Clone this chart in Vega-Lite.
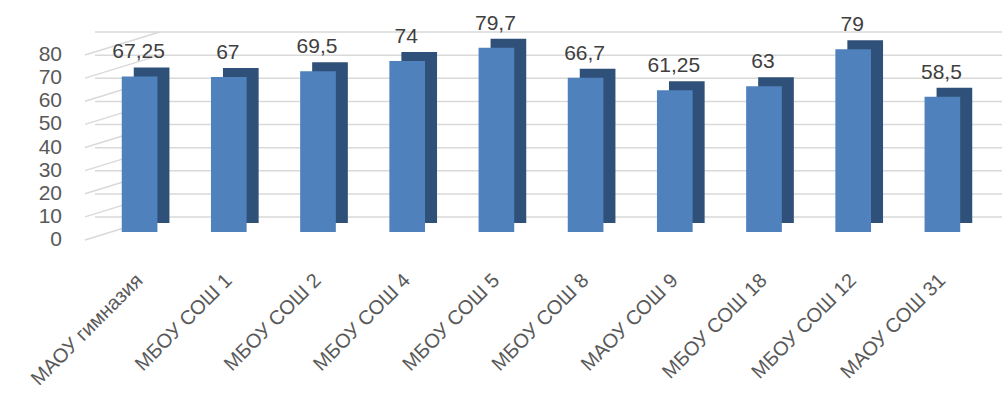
{
  "$schema": "https://vega.github.io/schema/vega-lite/v6.json",
  "width": 892,
  "height": 185,
  "autosize": {"type": "none"},
  "padding": {"left": 95, "top": 47, "right": 15, "bottom": 164},
  "background": "white",
  "config": {
    "view": {"stroke": null},
    "font": "Liberation Sans",
    "axisX": {
      "title": null, "domain": false, "ticks": false, "grid": false, "labelAngle": -45,
      "labelAlign": "right", "labelBaseline": "middle", "labelPadding": 45,
      "labelFontSize": 20, "labelColor": "#595959", "labelFont": "Liberation Sans"
    },
    "locale": {"number": {"decimal": ",", "thousands": " ", "grouping": [3], "currency": ["", ""]}}
  },
  "datasets": {
    "schools": [
      {"school": "МАОУ гимназия", "value": 67.25},
      {"school": "МБОУ СОШ 1", "value": 67},
      {"school": "МБОУ СОШ 2", "value": 69.5},
      {"school": "МБОУ СОШ 4", "value": 74},
      {"school": "МБОУ СОШ 5", "value": 79.7},
      {"school": "МБОУ СОШ 8", "value": 66.7},
      {"school": "МАОУ СОШ 9", "value": 61.25},
      {"school": "МБОУ СОШ 18", "value": 63},
      {"school": "МБОУ СОШ 12", "value": 79},
      {"school": "МАОУ СОШ 31", "value": 58.5}
    ],
    "grid": [
      {"value": 0}, {"value": 10}, {"value": 20}, {"value": 30}, {"value": 40},
      {"value": 50}, {"value": 60}, {"value": 70}, {"value": 80}
    ]
  },
  "encoding": {
    "y": {
      "field": "value", "type": "quantitative",
      "scale": {"domain": [0, 80], "nice": false},
      "axis": null
    }
  },
  "layer": [
    {
      "data": {"name": "grid"},
      "mark": {"type": "rule", "color": "#D9D9D9", "strokeWidth": 1.5, "xOffset": 20, "yOffset": -15},
      "encoding": {}
    },
    {
      "data": {"name": "grid"},
      "mark": {"type": "rule", "color": "#D9D9D9", "strokeWidth": 1.5, "xOffset": -10, "x2Offset": 20, "yOffset": 8, "y2Offset": -15},
      "encoding": {
        "x": {
          "datum": "МАОУ гимназия", "type": "nominal", "bandPosition": 0,
          "scale": {
            "domain": ["МАОУ гимназия", "МБОУ СОШ 1", "МБОУ СОШ 2", "МБОУ СОШ 4", "МБОУ СОШ 5", "МБОУ СОШ 8", "МАОУ СОШ 9", "МБОУ СОШ 18", "МБОУ СОШ 12", "МАОУ СОШ 31"],
            "paddingInner": 0, "paddingOuter": 0
          }
        },
        "x2": {"datum": "МАОУ гимназия"},
        "y2": {"field": "value"}
      }
    },
    {
      "data": {"name": "grid"},
      "mark": {"type": "text", "fontSize": 21, "color": "#595959", "align": "right", "baseline": "middle", "xOffset": -33, "yOffset": 8},
      "encoding": {
        "x": {"datum": "МАОУ гимназия", "type": "nominal", "bandPosition": 0},
        "text": {"field": "value", "type": "quantitative", "format": "d"}
      }
    },
    {
      "data": {"name": "schools"},
      "mark": {"type": "bar", "color": "#2F5078", "width": {"band": 0.4}, "xOffset": 12, "x2Offset": 12, "yOffset": -9, "y2Offset": -9},
      "encoding": {
        "x": {"field": "school", "type": "nominal"}
      }
    },
    {
      "data": {"name": "schools"},
      "mark": {"type": "bar", "color": "#4F81BD", "width": {"band": 0.4}},
      "encoding": {
        "x": {"field": "school", "type": "nominal"}
      }
    },
    {
      "data": {"name": "schools"},
      "mark": {"type": "text", "fontSize": 21, "color": "#404040", "baseline": "alphabetic", "dy": -18, "dx": -1},
      "encoding": {
        "x": {"field": "school", "type": "nominal"},
        "text": {"field": "value", "type": "quantitative", "format": "~g"}
      }
    }
  ]
}
